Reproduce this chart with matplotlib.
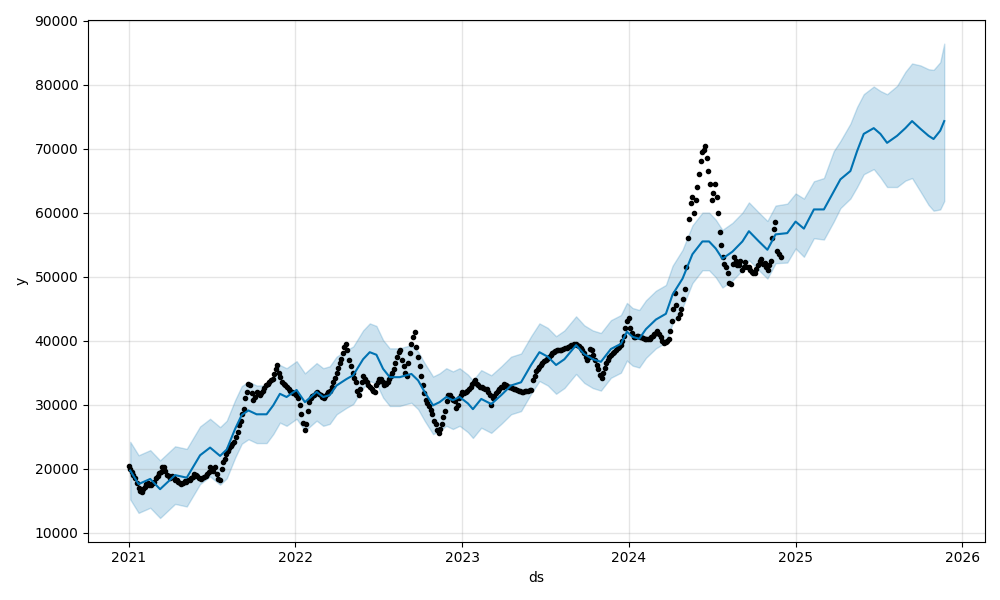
import numpy as np
import pandas as pd
import matplotlib
matplotlib.use("Agg")
import matplotlib.pyplot as plt

# Observed data points: weekly samples starting 2021-01-01 ...
obs_start = "2021-01-01"
obs_y = [
    20500, 19500, 18500, 17000, 16300, 17200, 17800, 17500, 18000, 18800,
    19500, 20200, 19000, 18500, 18600, 18200, 17800, 17800, 18000, 18300,
    18700, 19000, 18600, 18500, 18900, 19500, 20000, 20300, 18400, 20000,
    21500, 22800, 23500, 24200, 25800, 27500, 29300, 32000, 33000, 30800,
    32000, 31500, 32200, 33000, 33600, 34000, 35500, 35000, 33500, 33000,
    32400, 32000, 31800,
    31000, 28500, 26000, 29000, 31000, 31500, 32000, 31500, 31000, 31600,
    32200, 33500, 35000, 36500, 38000, 39500, 37000, 35000, 33500, 31500,
    33500, 34000, 33000, 32500, 32000, 33500, 34000, 33000, 33500, 34500,
    35500, 37500, 38500, 36000, 34500, 38000, 40500, 39000, 36000, 33000,
    30800, 29800, 28600, 27000, 25500, 27000, 29000, 31500, 31000, 30500,
    30000, 31500,
    31800, 32200, 32800, 33600, 33200, 32800, 32600, 32400, 31500, 31000,
    31800, 32500, 32800, 33000, 32800, 32600, 32400, 32200, 32000, 32100,
    32200, 32300, 34500, 35600, 36200, 36800, 37200, 37800, 38200, 38500,
    38600, 38700, 38900, 39200, 39400, 39500, 39200, 38500, 37500, 37500,
    38500, 37000, 35500, 34200, 35800, 37000, 37800, 38300, 38800, 39300,
    40800, 43000, 42000,
    40500, 40800, 40600, 40400, 40200, 40300, 40800, 41200, 41000, 40000,
    39800, 40300, 43000, 47500, 43500, 45000, 48000, 56000, 61500, 60000,
    64000, 68000, 69800, 68500, 64500, 63000, 62500, 57000, 53000, 51500,
    49000, 52000, 52500, 51800, 51000, 52300, 51500, 50800, 50500, 51800,
    52800, 52200, 51000, 52500, 57500, 54000, 53000,
]
# ... and mid-week samples (3 days after each weekly sample)
obs_y_mid = [
    20000, 19000, 17800, 16500, 16800, 17600, 17400, 17800, 18500, 19300,
    20300, 19600, 18800, 18800, 18300, 18000, 17600, 18100, 18200, 18600,
    19100, 18800, 18400, 18700, 19200, 20200, 19700, 19200, 18200, 21000,
    22300, 23200, 23800, 25000, 26800, 28500, 31000, 33300, 31800, 31200,
    31800, 31800, 32600, 33300, 33800, 34800, 36200, 34300, 33200, 32700,
    32200, 31900, 31500, 30000, 27200, 27000, 30400, 31300, 31800, 31700,
    31200, 31300, 32000, 32800, 34200, 35800, 37200, 39000, 38500, 36000,
    34200, 32200, 32500, 34500, 33500, 32700, 32200, 33000, 34000, 33500,
    33200, 34000, 35000, 36500, 38200, 37000, 35000, 36500, 39500, 41300,
    37500, 34500, 31800, 30200, 29200, 27500, 26000, 26200, 28000, 30500,
    31500, 30700, 29500, 31000, 32000, 32000, 32500, 33300, 33800, 33000,
    32700, 32500, 32000, 30000, 31300, 32200, 32700, 33200, 32900, 32700,
    32500, 32300, 32100, 32000, 32200, 32300, 33800, 35200, 35900, 36500,
    37000, 37500, 38000, 38400, 38500, 38600, 38800, 39000, 39300, 39500,
    39400, 38800, 38000, 37000, 38700, 37800, 36200, 34600, 35000, 36500,
    37400, 38000, 38600, 39000, 40000, 42000, 43500, 41200, 40600, 40700,
    40500, 40200, 40300, 40500, 41000, 41500, 40500, 39700, 40000, 41500,
    45000, 45500, 44200, 46500, 51500, 59000, 62500, 62000, 66000, 69500,
    70400, 66500, 62000, 64500, 60000, 55000, 52000, 50500, 48800, 53000,
    51800, 52500, 51500, 51500, 51000, 50500, 51200, 52500, 52000, 51500,
    51800, 56000, 58500, 53500,
]

# Forecast key points: time in decimal years
fc_t = [
    2021.008, 2021.058, 2021.128, 2021.187, 2021.277, 2021.347, 2021.427, 2021.487, 2021.547, 2021.587,
    2021.637, 2021.677, 2021.717, 2021.766, 2021.826, 2021.866, 2021.906, 2021.946,
    2022.006, 2022.056, 2022.126, 2022.166, 2022.205, 2022.246, 2022.305, 2022.346, 2022.405, 2022.445,
    2022.485, 2022.525, 2022.565, 2022.625, 2022.665, 2022.695, 2022.735, 2022.774, 2022.825, 2022.864,
    2022.904, 2022.944, 2022.984,
    2023.034, 2023.064, 2023.114, 2023.174, 2023.234, 2023.293, 2023.353, 2023.413, 2023.463, 2023.513,
    2023.563, 2023.613, 2023.683, 2023.732, 2023.783, 2023.832, 2023.892, 2023.952, 2023.988,
    2024.022, 2024.062, 2024.102, 2024.162, 2024.222, 2024.262, 2024.322, 2024.381, 2024.441, 2024.481,
    2024.521, 2024.561, 2024.621, 2024.681, 2024.720, 2024.780, 2024.831, 2024.880, 2024.950,
    2025.000, 2025.050, 2025.110, 2025.170, 2025.229, 2025.269, 2025.329, 2025.369, 2025.409, 2025.469,
    2025.509, 2025.549, 2025.609, 2025.659, 2025.699, 2025.749, 2025.798, 2025.828, 2025.868, 2025.892,
]
yhat = [
    19700, 17600, 18400, 16800, 19000, 18600, 22100, 23300, 22000, 23000,
    26200, 28400, 29100, 28500, 28500, 29900, 31700, 31200,
    32300, 30400, 32000, 31200, 31500, 33000, 34000, 34600, 37100, 38200,
    37800, 35600, 34300, 34300, 34600, 34800, 33800, 32000, 29900, 30400,
    31200, 30700, 31200,
    30200, 29300, 30900, 30100, 31500, 33000, 33500, 36200, 38200, 37500,
    36200, 37100, 39300, 37900, 37100, 36700, 38700, 39500, 41400,
    40600, 40300, 41800, 43300, 44200, 47200, 49700, 53500, 55500, 55500,
    54400, 52800, 53900, 55500, 57100, 55500, 54200, 56600, 56800,
    58600, 57500, 60500, 60500, 63300, 65200, 66500, 69600, 72300, 73200,
    72300, 70900, 72000, 73200, 74300, 73100, 72000, 71500, 72800, 74300,
]
yhat_upper = [
    24200, 22100, 22900, 21300, 23500, 23100, 26600, 27800, 26500, 27500,
    30700, 32900, 33600, 33000, 33000, 34400, 36200, 35700,
    36800, 34900, 36500, 35700, 36000, 37500, 38500, 39100, 41600, 42700,
    42300, 40100, 38800, 38800, 39100, 39300, 38300, 36500, 34400, 34900,
    35700, 35200, 35700,
    34700, 33800, 35400, 34600, 36000, 37500, 38000, 40700, 42700, 42000,
    40700, 41600, 43800, 42400, 41600, 41200, 43200, 44000, 45900,
    45100, 44800, 46300, 47800, 48700, 51700, 54200, 58000, 60000, 60000,
    58900, 57300, 58400, 60000, 61600, 60000, 58700, 61100, 61400,
    63000, 62200, 64900, 65400, 69600, 71200, 73900, 76500, 78500, 79700,
    79000, 78500, 79800, 82000, 83300, 83000, 82400, 82300, 83500, 86400,
]
yhat_lower = [
    15200, 13100, 13900, 12300, 14500, 14100, 17600, 18800, 17500, 18500,
    21700, 23900, 24600, 24000, 24000, 25400, 27200, 26700,
    27800, 25900, 27500, 26700, 27000, 28500, 29500, 30100, 32600, 33700,
    33300, 31100, 29800, 29800, 30100, 30300, 29300, 27500, 25400, 25900,
    26700, 26200, 26700,
    25700, 24800, 26400, 25600, 27000, 28500, 29000, 31700, 33700, 33000,
    31700, 32600, 34800, 33400, 32600, 32200, 34200, 35000, 36900,
    36100, 35800, 37300, 38800, 39700, 42700, 45200, 49000, 51000, 51000,
    49900, 48300, 49400, 51000, 52600, 51000, 49700, 52100, 52200,
    54400, 53100, 56000, 55800, 58600, 60700, 62200, 64000, 66000, 66800,
    65500, 64000, 64000, 65000, 65400, 63300, 61200, 60300, 60500, 61800,
]

obs_ds = pd.date_range(obs_start, periods=len(obs_y), freq="7D")
obs_ds_mid = pd.date_range(pd.Timestamp(obs_start) + pd.Timedelta(days=3),
                           periods=len(obs_y_mid), freq="7D")
all_ds = obs_ds.append(obs_ds_mid)
all_y = list(obs_y) + list(obs_y_mid)
order = np.argsort(all_ds.values)
hist_ds = all_ds[order]
hist_y = np.asarray(all_y)[order]

base = pd.Timestamp("2021-01-01")
fc_ds = pd.DatetimeIndex([base + pd.Timedelta(days=(t - 2021.0) * 365.25) for t in fc_t])

fig = plt.figure(facecolor="w", figsize=(10, 6))
ax = fig.add_subplot(111)
ax.plot(hist_ds.to_pydatetime(), hist_y, "k.", label="Observed data points")
ax.plot(fc_ds.to_pydatetime(), yhat, ls="-", c="#0072B2", label="Forecast")
ax.fill_between(fc_ds.to_pydatetime(), yhat_lower, yhat_upper, color="#0072B2", alpha=0.2,
                label="Uncertainty interval")
ax.grid(True, which="major", c="gray", ls="-", lw=1, alpha=0.2)
ax.set_xlabel("ds")
ax.set_ylabel("y")
fig.tight_layout()
fig.savefig("out.png", dpi=100)
